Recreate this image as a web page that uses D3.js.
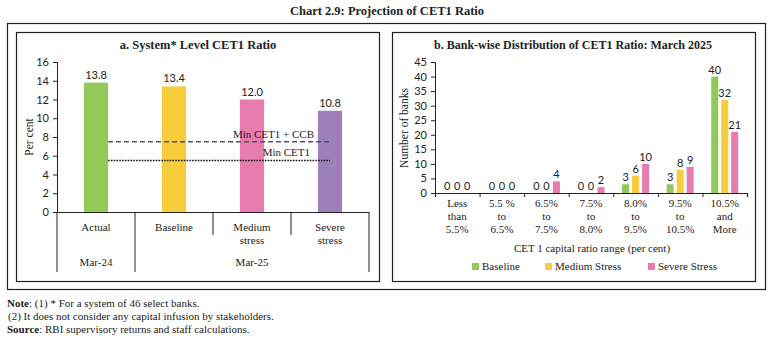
<!DOCTYPE html>
<html>
<head>
<meta charset="utf-8">
<script src="https://cdn.jsdelivr.net/npm/d3@7"></script>
<style>
  body { margin: 0; background: #fff; }
  svg text { font-family: "Liberation Serif", serif; fill: #222; }
  .num { font-family: Lato, "Liberation Sans", sans-serif; }
</style>
</head>
<body>
<svg id="chart" width="773" height="340"></svg>
<script>
// panel a: system level CET1
const scenarios = ["Actual", "Baseline", "Medium stress", "Severe stress"];
const scenarioLines = [["Actual"], ["Baseline"], ["Medium", "stress"], ["Severe", "stress"]];
const cet1 = [13.8, 13.4, 12.0, 10.8];
const cet1Colors = ["#92c957", "#f8cd3c", "#e87cae", "#9d80ba"];
const periods = ["Mar-24", "Mar-25"];
const minCET1 = 5.5;
const minCET1CCB = 7.5;
const ticksA = [0, 2, 4, 6, 8, 10, 12, 14, 16];

// panel b: bank-wise distribution, March 2025
const ranges = [
  ["Less", "than", "5.5%"], ["5.5 %", "to", "6.5%"], ["6.5%", "to", "7.5%"],
  ["7.5%", "to", "8.0%"], ["8.0%", "to", "9.5%"], ["9.5%", "to", "10.5%"],
  ["10.5%", "and", "More"]
];
const series = ["Baseline", "Medium Stress", "Severe Stress"];
const baseline = [0, 0, 0, 0, 3, 3, 40];
const medium = [0, 0, 0, 0, 6, 8, 32];
const severe = [0, 0, 4, 2, 10, 9, 21];
const seriesColors = ["#92c957", "#f8cd3c", "#e87cae"];
const ticksB = [0, 5, 10, 15, 20, 25, 30, 35, 40, 45];

const svg = d3.select("#chart");

// title and frames
svg.append("text").attr("x", 387).attr("y", 15).attr("text-anchor", "middle")
  .style("font-size", "12.5px").style("font-weight", "bold")
  .text("Chart 2.9: Projection of CET1 Ratio");

svg.append("rect").attr("x", 7.5).attr("y", 23.5).attr("width", 758).attr("height", 266)
  .attr("fill", "none").attr("stroke", "#222").attr("stroke-width", 1.2);
svg.append("rect").attr("x", 16.5).attr("y", 32.5).attr("width", 363).attr("height", 249)
  .attr("fill", "none").attr("stroke", "#222").attr("stroke-width", 1.2);
svg.append("rect").attr("x", 392.5).attr("y", 32.5).attr("width", 363).attr("height", 249)
  .attr("fill", "none").attr("stroke", "#222").attr("stroke-width", 1.2);

// ---------- panel a ----------
const a = svg.append("g");
a.append("text").attr("x", 198).attr("y", 49).attr("text-anchor", "middle")
  .style("font-size", "12.5px").style("font-weight", "bold")
  .text("a. System* Level CET1 Ratio");

const yA = d3.scaleLinear().domain([0, 16]).range([212, 62]);
const xA = d3.scaleBand().domain(scenarios).range([57, 369]);
const barWA = xA.bandwidth() * 0.31;

const yAxisA = a.append("g").attr("transform", "translate(57,0)")
  .call(d3.axisLeft(yA).tickValues(ticksA).tickSize(4).tickPadding(4));
yAxisA.selectAll("text").attr("class", "num").style("font-size", "11px").attr("fill", "#222");
yAxisA.selectAll("line, path").attr("stroke", "#222");

a.append("text").attr("transform", "translate(33,137) rotate(-90)").attr("text-anchor", "middle")
  .style("font-size", "11.5px").text("Per cent");

a.selectAll("rect.bar").data(cet1).join("rect").attr("class", "bar")
  .attr("x", (d, i) => xA(scenarios[i]) + xA.bandwidth() / 2 - barWA / 2)
  .attr("y", d => yA(d))
  .attr("width", barWA)
  .attr("height", d => yA(0) - yA(d))
  .attr("fill", (d, i) => cet1Colors[i]);

a.selectAll("text.val").data(cet1).join("text").attr("class", "val num")
  .attr("x", (d, i) => xA(scenarios[i]) + xA.bandwidth() / 2)
  .attr("y", d => yA(d) - 4)
  .attr("text-anchor", "middle").style("font-size", "11px")
  .text(d => d.toFixed(1));

// regulatory minimum lines, drawn over the projected bars
const lineX1 = xA("Actual") + xA.bandwidth() / 2 + barWA / 2;
const lineX2 = xA("Severe stress") + xA.bandwidth() / 2;
a.append("line").attr("x1", lineX1).attr("x2", lineX2)
  .attr("y1", yA(minCET1CCB)).attr("y2", yA(minCET1CCB))
  .attr("stroke", "#4a5468").attr("stroke-width", 1.6).attr("stroke-dasharray", "5,3");
a.append("line").attr("x1", lineX1).attr("x2", lineX2)
  .attr("y1", yA(minCET1)).attr("y2", yA(minCET1))
  .attr("stroke", "#111").attr("stroke-width", 1.6).attr("stroke-dasharray", "1.6,1.2");
a.append("text").attr("x", 314).attr("y", yA(minCET1CCB) - 4).attr("text-anchor", "end")
  .style("font-size", "11px").text("Min CET1 + CCB");
a.append("text").attr("x", 310).attr("y", yA(minCET1) - 4).attr("text-anchor", "end")
  .style("font-size", "11px").text("Min CET1");

// category axis with period brackets
a.append("line").attr("x1", 57).attr("x2", 369).attr("y1", 212.5).attr("y2", 212.5)
  .attr("stroke", "#222").attr("stroke-width", 1.2);
const edges = [57, ...scenarios.map(s => xA(s) + xA.bandwidth())];
edges.forEach((x, i) => {
  const long = i === 0 || i === 1 || i === edges.length - 1;
  a.append("line").attr("x1", x).attr("x2", x).attr("y1", 212).attr("y2", long ? 272 : 235)
    .attr("stroke", "#222").attr("stroke-width", 1);
});
scenarioLines.forEach((lines, i) => {
  lines.forEach((t, j) => {
    a.append("text").attr("x", xA(scenarios[i]) + xA.bandwidth() / 2).attr("y", 231 + j * 13)
      .attr("text-anchor", "middle").style("font-size", "11px").text(t);
  });
});
a.append("text").attr("x", xA("Actual") + xA.bandwidth() / 2).attr("y", 266)
  .attr("text-anchor", "middle").style("font-size", "11px").text(periods[0]);
a.append("text").attr("x", (xA("Baseline") + 369) / 2).attr("y", 266)
  .attr("text-anchor", "middle").style("font-size", "11px").text(periods[1]);

// ---------- panel b ----------
const b = svg.append("g");
b.append("text").attr("x", 573).attr("y", 49).attr("text-anchor", "middle")
  .style("font-size", "12px").style("font-weight", "bold")
  .text("b. Bank-wise Distribution of CET1 Ratio: March 2025");

const yB = d3.scaleLinear().domain([0, 45]).range([193, 62]);
const xB = d3.scaleBand().domain(d3.range(ranges.length)).range([435, 747]);
const xSub = d3.scaleBand().domain(series).range([-13.5, 13.5]).paddingInner(0.3);

const yAxisB = b.append("g").attr("transform", "translate(435,0)")
  .call(d3.axisLeft(yB).tickValues(ticksB).tickSize(4).tickPadding(4));
yAxisB.selectAll("text").attr("class", "num").style("font-size", "11px").attr("fill", "#222");
yAxisB.selectAll("line, path").attr("stroke", "#222");

b.append("text").attr("transform", "translate(408,128) rotate(-90)").attr("text-anchor", "middle")
  .style("font-size", "11.5px").text("Number of banks");

const rows = [baseline, medium, severe];
const cells = [];
rows.forEach((vals, s) => vals.forEach((v, i) => cells.push({ s, i, v })));

b.selectAll("rect.bar").data(cells).join("rect").attr("class", "bar")
  .attr("x", d => xB(d.i) + xB.bandwidth() / 2 + xSub(series[d.s]))
  .attr("y", d => yB(d.v))
  .attr("width", xSub.bandwidth())
  .attr("height", d => yB(0) - yB(d.v))
  .attr("fill", d => seriesColors[d.s]);

b.selectAll("text.val").data(cells).join("text").attr("class", "val num")
  .attr("x", d => xB(d.i) + xB.bandwidth() / 2 + xSub(series[d.s]) + xSub.bandwidth() / 2)
  .attr("y", d => yB(d.v) - 3)
  .attr("text-anchor", "middle").style("font-size", "11px")
  .text(d => d.v);

const xAxisB = b.append("g").attr("transform", "translate(0,193)")
  .call(d3.axisBottom(d3.scaleLinear().domain([0, ranges.length]).range([435, 747]))
    .tickValues(d3.range(ranges.length + 1)).tickSize(4).tickFormat(""));
xAxisB.selectAll("line, path").attr("stroke", "#222");
xAxisB.select("path").attr("stroke-width", 1.2);

ranges.forEach((lines, i) => {
  lines.forEach((t, j) => {
    b.append("text").attr("x", xB(i) + xB.bandwidth() / 2).attr("y", 207 + j * 13)
      .attr("text-anchor", "middle").style("font-size", "11px").text(t);
  });
});

b.append("text").attr("x", 592).attr("y", 252).attr("text-anchor", "middle")
  .style("font-size", "11px").text("CET 1 capital ratio range (per cent)");

const legendX = [472, 545, 648];
series.forEach((s, i) => {
  b.append("rect").attr("x", legendX[i]).attr("y", 263).attr("width", 7).attr("height", 7)
    .attr("fill", seriesColors[i]);
  b.append("text").attr("x", legendX[i] + 10).attr("y", 270)
    .style("font-size", "11px").text(s);
});

// notes
const notes = svg.append("g").style("font-size", "11px");
const n1 = notes.append("text").attr("x", 7).attr("y", 307);
n1.append("tspan").style("font-weight", "bold").text("Note");
n1.append("tspan").text(": (1) * For a system of 46 select banks.");
notes.append("text").attr("x", 8).attr("y", 320)
  .text("(2) It does not consider any capital infusion by stakeholders.");
const n3 = notes.append("text").attr("x", 7).attr("y", 333);
n3.append("tspan").style("font-weight", "bold").text("Source");
n3.append("tspan").text(": RBI supervisory returns and staff calculations.");
</script>
</body>
</html>
